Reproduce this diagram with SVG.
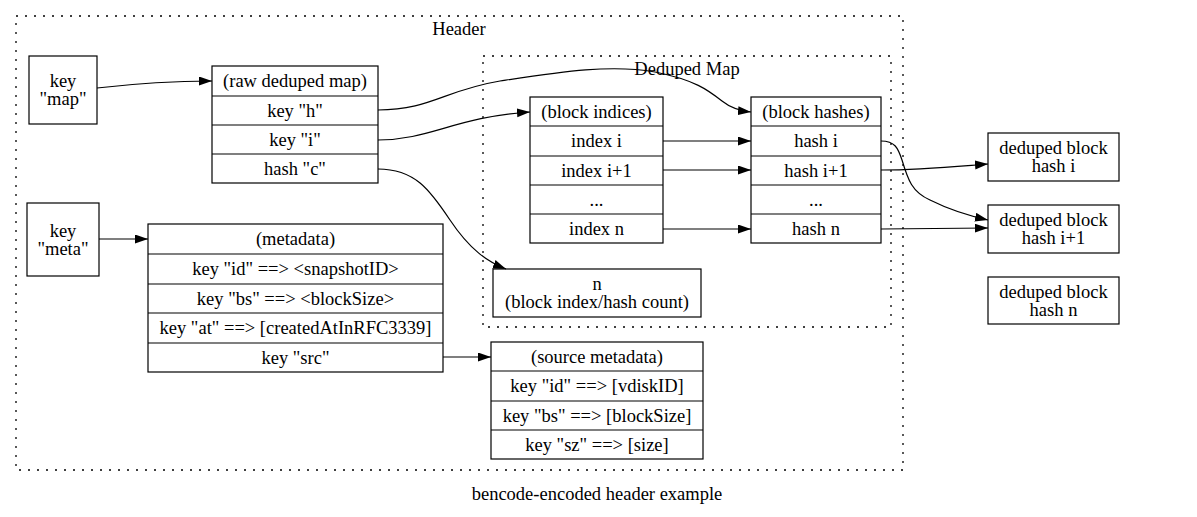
<svg xmlns="http://www.w3.org/2000/svg" width="1197" height="517" viewBox="0 0 1197 517">
<style>
text{font-family:"Liberation Serif","Times New Roman",serif;font-size:18.5px;fill:#000;text-anchor:middle}
.n{fill:#fff;stroke:#000;stroke-width:1.2}
.d{stroke:#000;stroke-width:1.2}
.cl{fill:none;stroke:#000;stroke-width:1.3;stroke-dasharray:2,7}
.e{fill:none;stroke:#000;stroke-width:1.2;marker-end:url(#a)}
</style>
<defs>
<marker id="a" markerUnits="userSpaceOnUse" markerWidth="14" markerHeight="10" refX="13" refY="4.5" orient="auto">
<path d="M0,0 L13,4.5 L0,9 z" fill="#000"/>
</marker>
</defs>
<rect width="1197" height="517" fill="#fff"/>
<g id="cluster-header">
<rect class="cl" x="16" y="16" width="887" height="454"/>
<text x="459" y="35">Header</text>
</g>
<g id="cluster-deduped">
<rect class="cl" x="483" y="56" width="408" height="271"/>
<text x="687" y="75">Deduped Map</text>
</g>
<g id="key-map">
<rect class="n" x="29" y="56" width="68" height="68"/>
<text x="63" y="87">key</text>
<text x="63" y="105">"map"</text>
</g>
<g id="raw-deduped-map">
<rect class="n" x="212" y="66" width="166" height="117"/>
<line class="d" x1="212" y1="96" x2="378" y2="96"/>
<line class="d" x1="212" y1="125" x2="378" y2="125"/>
<line class="d" x1="212" y1="154" x2="378" y2="154"/>
<text x="295" y="87">(raw deduped map)</text>
<text x="295" y="116.5">key "h"</text>
<text x="295" y="145.5">key "i"</text>
<text x="295" y="174.5">hash "c"</text>
</g>
<g id="block-indices">
<rect class="n" x="530" y="97" width="133" height="146"/>
<line class="d" x1="530" y1="126" x2="663" y2="126"/>
<line class="d" x1="530" y1="156" x2="663" y2="156"/>
<line class="d" x1="530" y1="185" x2="663" y2="185"/>
<line class="d" x1="530" y1="214" x2="663" y2="214"/>
<text x="596.5" y="117.5">(block indices)</text>
<text x="596.5" y="147">index i</text>
<text x="596.5" y="176.5">index i+1</text>
<text x="596.5" y="205.5">...</text>
<text x="596.5" y="234.5">index n</text>
</g>
<g id="block-hashes">
<rect class="n" x="751" y="97" width="130" height="146"/>
<line class="d" x1="751" y1="126" x2="881" y2="126"/>
<line class="d" x1="751" y1="156" x2="881" y2="156"/>
<line class="d" x1="751" y1="185" x2="881" y2="185"/>
<line class="d" x1="751" y1="214" x2="881" y2="214"/>
<text x="816" y="117.5">(block hashes)</text>
<text x="816" y="147">hash i</text>
<text x="816" y="176.5">hash i+1</text>
<text x="816" y="205.5">...</text>
<text x="816" y="234.5">hash n</text>
</g>
<g id="count-n">
<rect class="n" x="493" y="269" width="208" height="48"/>
<text x="597" y="290">n</text>
<text x="597" y="308">(block index/hash count)</text>
</g>
<g id="deduped-block-i">
<rect class="n" x="988" y="133" width="131" height="48"/>
<text x="1053.5" y="154">deduped block</text>
<text x="1053.5" y="172">hash i</text>
</g>
<g id="deduped-block-i1">
<rect class="n" x="988" y="205" width="131" height="48"/>
<text x="1053.5" y="226">deduped block</text>
<text x="1053.5" y="244">hash i+1</text>
</g>
<g id="deduped-block-n">
<rect class="n" x="988" y="277" width="131" height="47"/>
<text x="1053.5" y="297.5">deduped block</text>
<text x="1053.5" y="315.5">hash n</text>
</g>
<g id="key-meta">
<rect class="n" x="27" y="203" width="72" height="73"/>
<text x="63" y="236.5">key</text>
<text x="63" y="254.5">"meta"</text>
</g>
<g id="metadata">
<rect class="n" x="148" y="224" width="295" height="148"/>
<line class="d" x1="148" y1="254" x2="443" y2="254"/>
<line class="d" x1="148" y1="284" x2="443" y2="284"/>
<line class="d" x1="148" y1="313" x2="443" y2="313"/>
<line class="d" x1="148" y1="343" x2="443" y2="343"/>
<text x="295.5" y="245">(metadata)</text>
<text x="295.5" y="275">key "id" ==&gt; &lt;snapshotID&gt;</text>
<text x="295.5" y="304.5">key "bs" ==&gt; &lt;blockSize&gt;</text>
<text x="295.5" y="334">key "at" ==&gt; [createdAtInRFC3339]</text>
<text x="295.5" y="363.5">key "src"</text>
</g>
<g id="source-metadata">
<rect class="n" x="491" y="342" width="212" height="117"/>
<line class="d" x1="491" y1="371" x2="703" y2="371"/>
<line class="d" x1="491" y1="401" x2="703" y2="401"/>
<line class="d" x1="491" y1="430" x2="703" y2="430"/>
<text x="597" y="362.5">(source metadata)</text>
<text x="597" y="392">key "id" ==&gt; [vdiskID]</text>
<text x="597" y="421.5">key "bs" ==&gt; [blockSize]</text>
<text x="597" y="450.5">key "sz" ==&gt; [size]</text>
</g>
<g id="connectors">
<path class="e" d="M97,88 C140,83 170,81 212,81"/>
<path class="e" d="M378,110 C430,110 445,90 500,81 C560,72 610,64 655,72 C695,80 708,90 722,101 C732,109 741,111 751,112"/>
<path class="e" d="M378,140 C430,140 455,117 530,112"/>
<path class="e" d="M378,169 C415,169 430,190 450,220 C470,250 488,262 506,269"/>
<path class="e" d="M663,141 L751,141"/>
<path class="e" d="M663,170 L751,170"/>
<path class="e" d="M663,229 L751,229"/>
<path class="e" d="M881,141 C895,141 898,148 902,160 C908,180 912,192 930,200 C950,210 970,216 988,220"/>
<path class="e" d="M881,170 C920,170 950,167 988,164"/>
<path class="e" d="M881,229 L988,228"/>
<path class="e" d="M99,239 L148,239"/>
<path class="e" d="M443,357 L491,357"/>
</g>
<text x="597" y="500">bencode-encoded header example</text>
</svg>
